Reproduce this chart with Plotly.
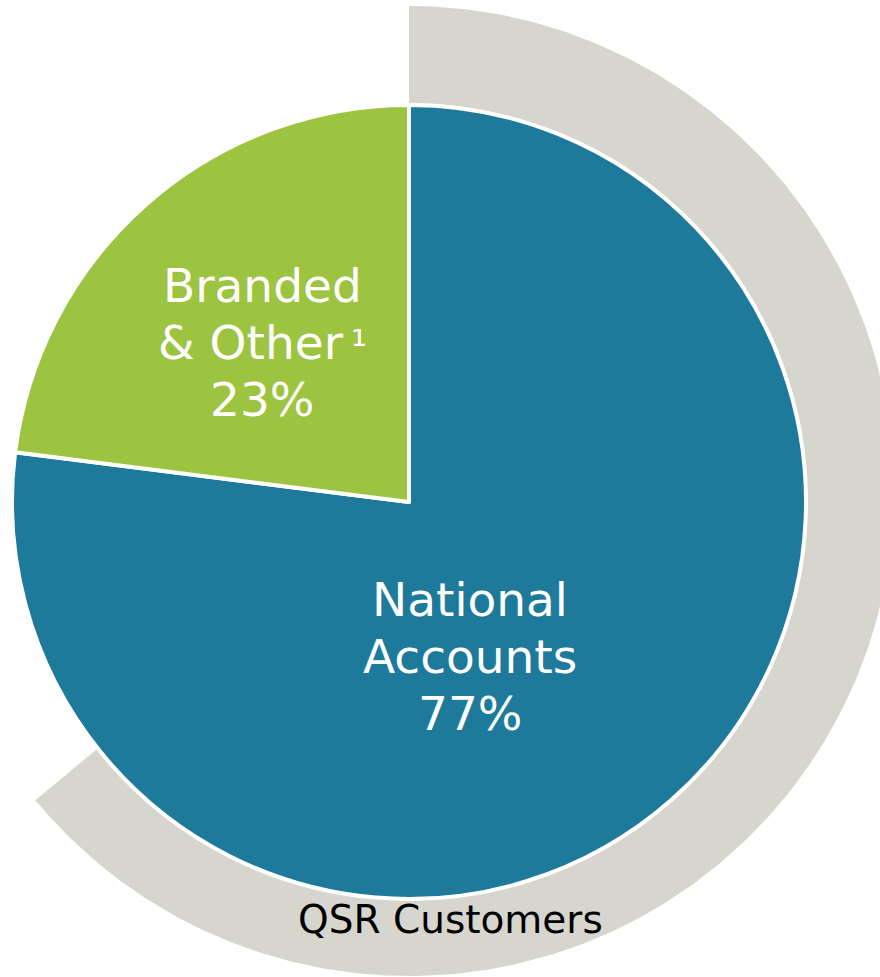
import numpy as np
import plotly.graph_objects as go

# ---------------- data ----------------
pie_labels = ["National Accounts", "Branded & Other"]
pie_values = [77, 23]
pie_colors = ["#1E7A9B", "#9DC440"]
label_lines = {
    "Branded & Other": ["Branded", "& Other<span style='font-size:40px'>\u2009\u00b9</span>", "23%"],
    "National Accounts": ["National", "Accounts", "77%"],
}
ring_label = "QSR Customers"
ring_value = 64          # share (%) of customers, drawn as the outer grey arc
ring_color = "#D6D5CE"

# ---------------- layout constants (pixels) ----------------
W, H = 880, 977
pie_cx, pie_cy, pie_r = 409, 502, 397
ring_cx, ring_cy, ring_ro, ring_ri = 409, 491, 485, 388
FONT = "DejaVu Sans"
label_size = 47
line_gap = 57
label_pos = {"Branded & Other": (262, 285), "National Accounts": (470, 599)}

fig = go.Figure()

# outer grey arc (clockwise from 12 o'clock), built from ring_value
sweep = 2 * np.pi * ring_value / 100.0
th = np.linspace(0, sweep, 400)
xo = ring_cx + ring_ro * np.sin(th)
yo = ring_cy - ring_ro * np.cos(th)
xi = ring_cx + ring_ri * np.sin(th[::-1])
yi = ring_cy - ring_ri * np.cos(th[::-1])
fig.add_trace(go.Scatter(
    x=np.concatenate([xo, xi, xo[:1]]),
    y=np.concatenate([yo, yi, yo[:1]]),
    mode="lines", fill="toself", fillcolor=ring_color,
    line=dict(width=0, color=ring_color), hoverinfo="skip",
    showlegend=False, name=ring_label,
))

# main pie
fig.add_trace(go.Pie(
    labels=pie_labels, values=pie_values, sort=False,
    direction="clockwise", rotation=0,
    marker=dict(colors=pie_colors, line=dict(color="white", width=4)),
    textinfo="none", hoverinfo="label+percent", showlegend=False,
    domain=dict(x=[(pie_cx - pie_r) / W, (pie_cx + pie_r) / W],
                y=[(H - pie_cy - pie_r) / H, (H - pie_cy + pie_r) / H]),
))

annotations = []
for lab in pie_labels:
    x0, y0 = label_pos[lab]
    for i, line in enumerate(label_lines[lab]):
        annotations.append(dict(
            x=x0, y=y0 + i * line_gap, xref="x", yref="y",
            text=line, showarrow=False, xanchor="center", yanchor="middle",
            font=dict(family=FONT, size=label_size, color="white"),
        ))
annotations.append(dict(
    x=450, y=919, xref="x", yref="y", text=ring_label, showarrow=False,
    xanchor="center", yanchor="middle",
    font=dict(family=FONT, size=39, color="black"),
))

fig.update_layout(
    width=W, height=H, autosize=False,
    margin=dict(l=0, r=0, t=0, b=0, pad=0),
    paper_bgcolor="white", plot_bgcolor="white",
    xaxis=dict(range=[0, W], visible=False, fixedrange=True),
    yaxis=dict(range=[H, 0], visible=False, fixedrange=True),
    annotations=annotations,
)

fig.write_html("out.html", config={"displayModeBar": False},
               post_script="document.body.style.margin='0px';")
